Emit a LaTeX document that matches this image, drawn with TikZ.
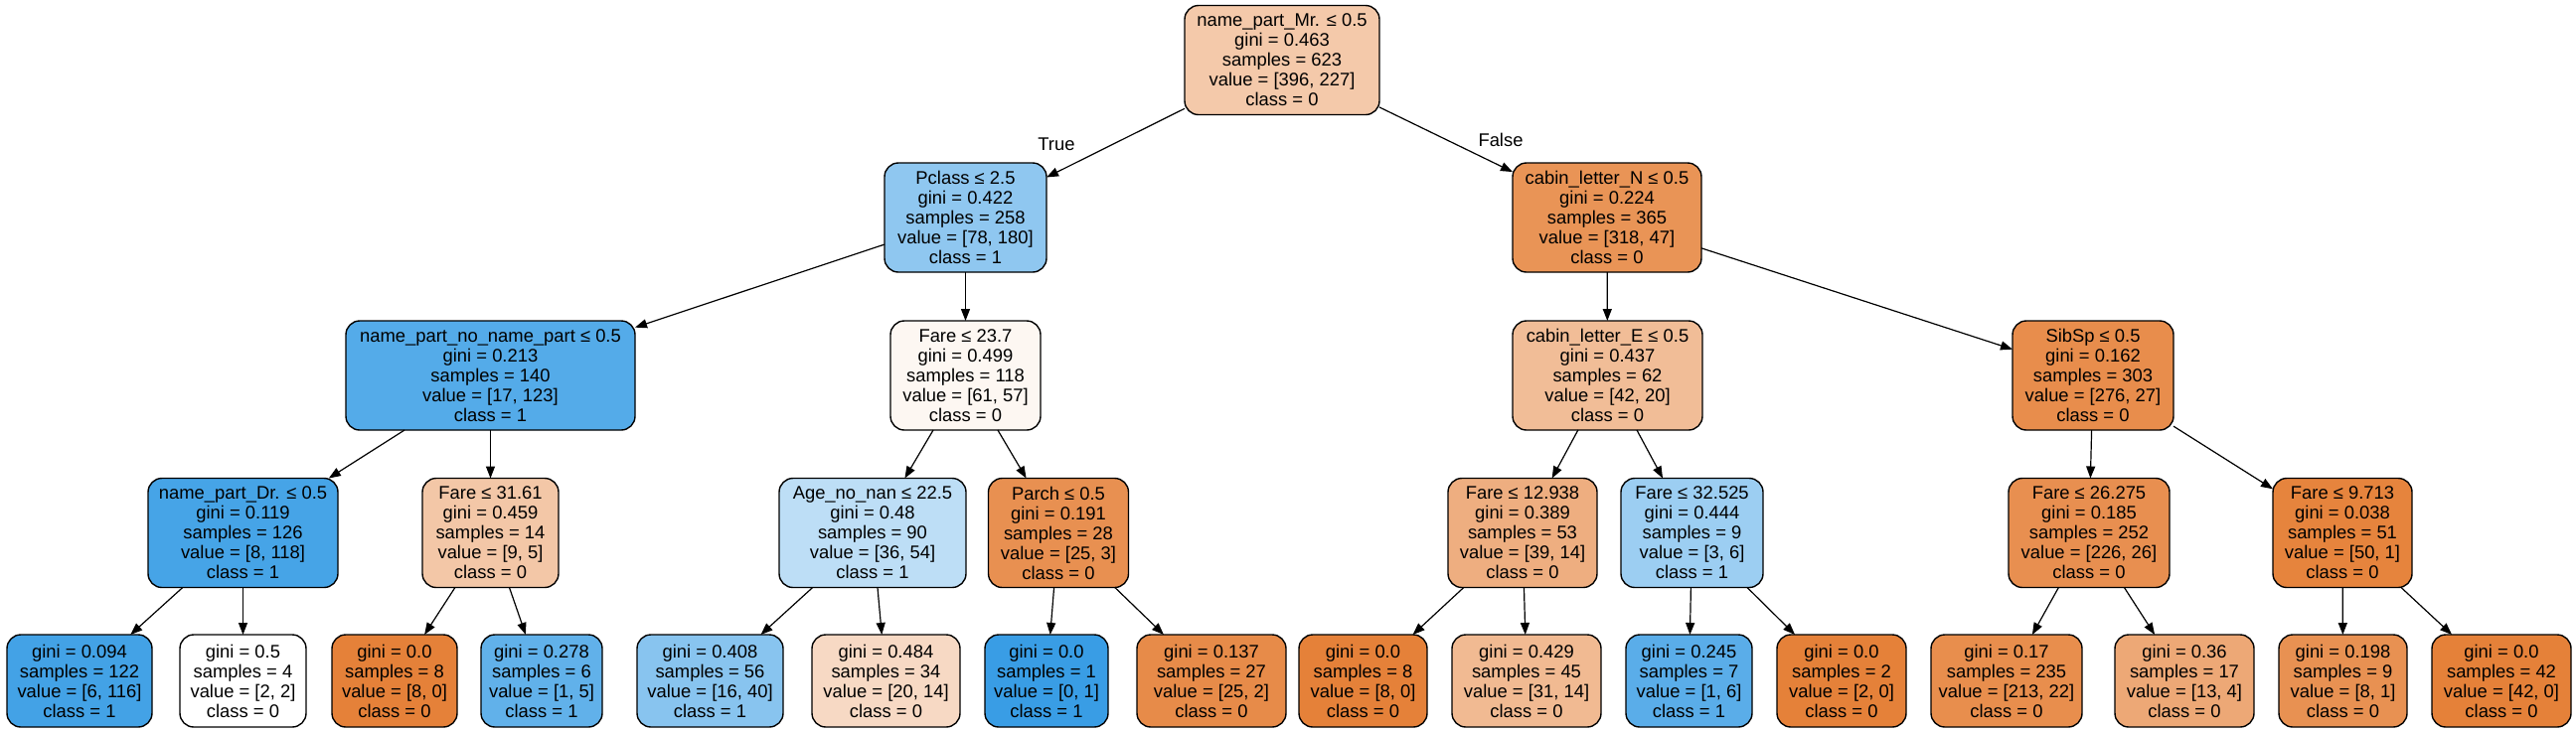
\documentclass[tikz,border=0pt]{standalone}
\usepackage{fontspec}
\setmainfont{Liberation Sans}
\usepackage{tikz}
\usetikzlibrary{arrows.meta}
\definecolor{czero}{RGB}{229,129,57}
\definecolor{cone}{RGB}{57,157,229}
\tikzset{
    treearrow/.style={-{Triangle[length=6pt,width=4.5pt]}, line width=0.6pt},
    split/.style={draw, line width=0.7pt, rounded corners=7pt, align=center, inner xsep=2pt, outer sep=0pt,
        minimum height=55pt, font=\fontsize{9.2}{10}\selectfont},
    leaf/.style={split, minimum height=46.5pt}
}

\begin{document}
\begin{tikzpicture}[x=0.5pt, y=-0.5pt]
    \useasboundingbox (0,0) rectangle (2592,736);

    \node[split, fill=czero!42.7!white, minimum width=98pt] (0) at (1290,60.5) {name\_part\_Mr. ≤ 0.5\\gini = 0.463\\samples = 623\\value = [396, 227]\\class = 0};

    \node[split, fill=cone!56.7!white, minimum width=81.5pt] (1) at (971.5,219) {Pclass ≤ 2.5\\gini = 0.422\\samples = 258\\value = [78, 180]\\class = 1};
    \node[split, fill=czero!85.2!white, minimum width=95pt] (16) at (1617,219) {cabin\_letter\_N ≤ 0.5\\gini = 0.224\\samples = 365\\value = [318, 47]\\class = 0};

    \path [treearrow](0) edge (1);
    \path [treearrow](0) edge (16);
    \node[font=\fontsize{9.2}{10}\selectfont] (truelbl) at (1063,145) {True};
    \node[font=\fontsize{9.2}{10}\selectfont] (falselbl) at (1510,141) {False};

    \node[split, fill=cone!86.2!white, minimum width=145.5pt] (2) at (493.5,378) {name\_part\_no\_name\_part ≤ 0.5\\gini = 0.213\\samples = 140\\value = [17, 123]\\class = 1};
    \node[split, fill=czero!6.6!white, minimum width=75.5pt] (9) at (971.5,378) {Fare ≤ 23.7\\gini = 0.499\\samples = 118\\value = [61, 57]\\class = 0};
    \node[split, fill=czero!52.4!white, minimum width=95.5pt] (17) at (1617.5,378) {cabin\_letter\_E ≤ 0.5\\gini = 0.437\\samples = 62\\value = [42, 20]\\class = 0};
    \node[split, fill=czero!90.2!white, minimum width=81pt] (24) at (2106,378) {SibSp ≤ 0.5\\gini = 0.162\\samples = 303\\value = [276, 27]\\class = 0};

    \path [treearrow](1) edge (2);
    \path [treearrow](1) edge (9);
    \path [treearrow](16) edge (17);
    \path [treearrow](16) edge (24);

    \node[split, fill=cone!93.2!white, minimum width=95.5pt] (3) at (244.5,536.5) {name\_part\_Dr. ≤ 0.5\\gini = 0.119\\samples = 126\\value = [8, 118]\\class = 1};
    \node[split, fill=czero!44.4!white, minimum width=68.5pt] (6) at (493.5,536.5) {Fare ≤ 31.61\\gini = 0.459\\samples = 14\\value = [9, 5]\\class = 0};
    \node[split, fill=cone!33.3!white, minimum width=94pt] (10) at (878,536.5) {Age\_no\_nan ≤ 22.5\\gini = 0.48\\samples = 90\\value = [36, 54]\\class = 1};
    \node[split, fill=czero!88!white, minimum width=70.5pt] (13) at (1065,536.5) {Parch ≤ 0.5\\gini = 0.191\\samples = 28\\value = [25, 3]\\class = 0};
    \node[split, fill=czero!64.1!white, minimum width=75pt] (18) at (1532,536.5) {Fare ≤ 12.938\\gini = 0.389\\samples = 53\\value = [39, 14]\\class = 0};
    \node[split, fill=cone!50!white, minimum width=71.5pt] (21) at (1702.5,536.5) {Fare ≤ 32.525\\gini = 0.444\\samples = 9\\value = [3, 6]\\class = 1};
    \node[split, fill=czero!88.5!white, minimum width=81pt] (25) at (2102,536.5) {Fare ≤ 26.275\\gini = 0.185\\samples = 252\\value = [226, 26]\\class = 0};
    \node[split, fill=czero!98!white, minimum width=70pt] (28) at (2357,536.5) {Fare ≤ 9.713\\gini = 0.038\\samples = 51\\value = [50, 1]\\class = 0};

    \path [treearrow](2) edge (3);
    \path [treearrow](2) edge (6);
    \path [treearrow](9) edge (10);
    \path [treearrow](9) edge (13);
    \path [treearrow](17) edge (18);
    \path [treearrow](17) edge (21);
    \path [treearrow](24) edge (25);
    \path [treearrow](24) edge (28);

    \node[leaf, fill=cone!94.8!white, minimum width=73pt] (4) at (80,685.5) {gini = 0.094\\samples = 122\\value = [6, 116]\\class = 1};
    \node[leaf, fill=white, minimum width=63.5pt] (5) at (244.5,685.5) {gini = 0.5\\samples = 4\\value = [2, 2]\\class = 0};
    \node[leaf, fill=czero, minimum width=63pt] (7) at (397,685.5) {gini = 0.0\\samples = 8\\value = [8, 0]\\class = 0};
    \node[leaf, fill=cone!80!white, minimum width=61pt] (8) at (545,685.5) {gini = 0.278\\samples = 6\\value = [1, 5]\\class = 1};
    \node[leaf, fill=cone!60!white, minimum width=73.5pt] (11) at (714.5,685.5) {gini = 0.408\\samples = 56\\value = [16, 40]\\class = 1};
    \node[leaf, fill=czero!30!white, minimum width=74.5pt] (12) at (891.5,685.5) {gini = 0.484\\samples = 34\\value = [20, 14]\\class = 0};
    \node[leaf, fill=cone, minimum width=62pt] (14) at (1053,685.5) {gini = 0.0\\samples = 1\\value = [0, 1]\\class = 1};
    \node[leaf, fill=czero!92!white, minimum width=75pt] (15) at (1219,685.5) {gini = 0.137\\samples = 27\\value = [25, 2]\\class = 0};
    \node[leaf, fill=czero, minimum width=64.5pt] (19) at (1371.5,685.5) {gini = 0.0\\samples = 8\\value = [8, 0]\\class = 0};
    \node[leaf, fill=czero!54.8!white, minimum width=75pt] (20) at (1536,685.5) {gini = 0.429\\samples = 45\\value = [31, 14]\\class = 0};
    \node[leaf, fill=cone!83.3!white, minimum width=63.5pt] (22) at (1699.5,685.5) {gini = 0.245\\samples = 7\\value = [1, 6]\\class = 1};
    \node[leaf, fill=czero, minimum width=65pt] (23) at (1853,685.5) {gini = 0.0\\samples = 2\\value = [2, 0]\\class = 0};
    \node[leaf, fill=czero!89.7!white, minimum width=76pt] (26) at (2019,685.5) {gini = 0.17\\samples = 235\\value = [213, 22]\\class = 0};
    \node[leaf, fill=czero!69.2!white, minimum width=70pt] (27) at (2198,685.5) {gini = 0.36\\samples = 17\\value = [13, 4]\\class = 0};
    \node[leaf, fill=czero!87.5!white, minimum width=64.5pt] (29) at (2357.5,685.5) {gini = 0.198\\samples = 9\\value = [8, 1]\\class = 0};
    \node[leaf, fill=czero, minimum width=70pt] (30) at (2517,685.5) {gini = 0.0\\samples = 42\\value = [42, 0]\\class = 0};

    \path [treearrow](3) edge (4);
    \path [treearrow](3) edge (5);
    \path [treearrow](6) edge (7);
    \path [treearrow](6) edge (8);
    \path [treearrow](10) edge (11);
    \path [treearrow](10) edge (12);
    \path [treearrow](13) edge (14);
    \path [treearrow](13) edge (15);
    \path [treearrow](18) edge (19);
    \path [treearrow](18) edge (20);
    \path [treearrow](21) edge (22);
    \path [treearrow](21) edge (23);
    \path [treearrow](25) edge (26);
    \path [treearrow](25) edge (27);
    \path [treearrow](28) edge (29);
    \path [treearrow](28) edge (30);

\end{tikzpicture}
\end{document}
